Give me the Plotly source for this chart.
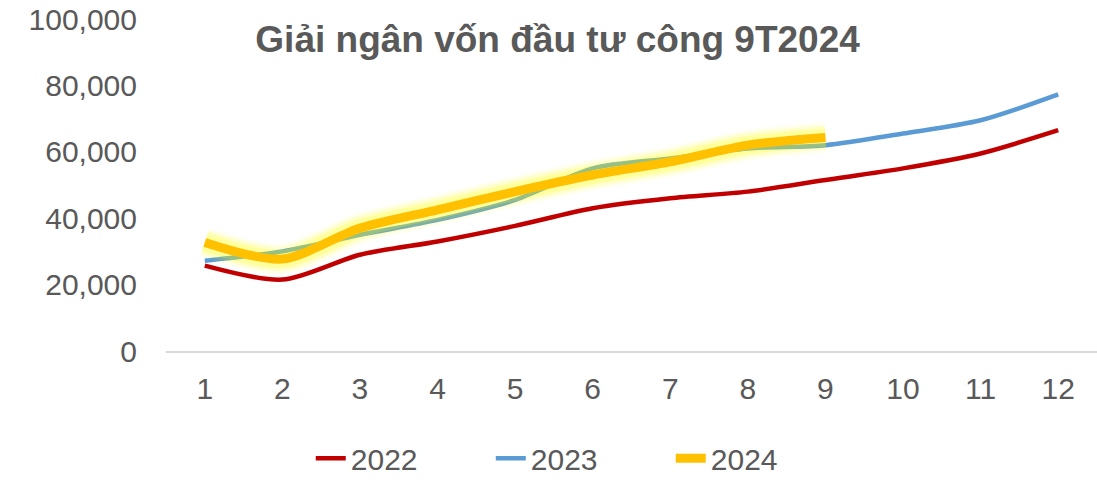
import plotly.graph_objects as go

months = [1, 2, 3, 4, 5, 6, 7, 8, 9, 10, 11, 12]
month_labels = ["1", "2", "3", "4", "5", "6", "7", "8", "9", "10", "11", "12"]
v2022 = [25700, 21500, 29000, 33000, 37700, 43000, 46000, 48000, 51500, 55000, 59500, 66500]
v2023 = [27200, 30000, 35000, 39500, 45500, 55000, 58000, 61000, 62000, 65500, 69500, 77300]
v2024 = [32700, 27700, 37000, 42500, 48000, 53000, 57000, 62000, 64300]
m2024 = months[:len(v2024)]
y_ticks = [0, 20000, 40000, 60000, 80000, 100000]
y_tick_labels = ["0", "20,000", "40,000", "60,000", "80,000", "100,000"]

FONT = "Liberation Sans, Arial, sans-serif"
GREY = "#595959"

fig = go.Figure()
fig.add_trace(go.Scatter(x=months, y=v2022, name="2022", mode="lines",
                         line=dict(color="#C00000", width=4.5, shape="spline", smoothing=0.8)))
fig.add_trace(go.Scatter(x=months, y=v2023, name="2023", mode="lines",
                         line=dict(color="#5B9BD5", width=4.5, shape="spline", smoothing=0.8)))
# glow around 2024 line
for w, a in [(30, 0.08), (24, 0.14), (18, 0.22)]:
    fig.add_trace(go.Scatter(x=m2024, y=v2024, mode="lines", showlegend=False, hoverinfo="skip",
                             line=dict(color=f"rgba(255,255,0,{a})", width=w, shape="spline", smoothing=0.8)))
fig.add_trace(go.Scatter(x=m2024, y=v2024, name="2024", mode="lines",
                         line=dict(color="#FFC000", width=9, shape="spline", smoothing=0.8)))

fig.update_layout(
    width=1097, height=482,
    margin=dict(l=166, r=0, t=18.5, b=130.5, autoexpand=False),
    paper_bgcolor="white", plot_bgcolor="white",
    font=dict(family=FONT, color=GREY, size=30),
    title=dict(text="<b>Giải ngân vốn đầu tư công 9T2024</b>", x=0.5083, xanchor="center",
               y=1 - 39 / 482, yanchor="middle", yref="container",
               font=dict(family=FONT, size=37, color=GREY)),
    showlegend=True,
    legend=dict(orientation="h", x=0.4455, xanchor="center", y=-0.323, yanchor="middle",
                font=dict(size=30, color=GREY), entrywidth=135, entrywidthmode="pixels",
                itemclick=False),
    xaxis=dict(range=[0.5, 12.5], tickvals=months, ticktext=month_labels, showgrid=False,
               zeroline=False, showline=True, linecolor="#D9D9D9", linewidth=1.5,
               ticks="", ticklabelstandoff=10, fixedrange=True, automargin=False),
    yaxis=dict(range=[0, 100000], tickvals=y_ticks, ticktext=y_tick_labels, showgrid=False,
               zeroline=False, showline=False, ticks="", ticklabelstandoff=28, fixedrange=True,
               automargin=False, ticklabeloverflow="allow"),
)

fig.write_html("out.html", config={"displayModeBar": False},
               post_script="document.body.style.margin='0px';")
